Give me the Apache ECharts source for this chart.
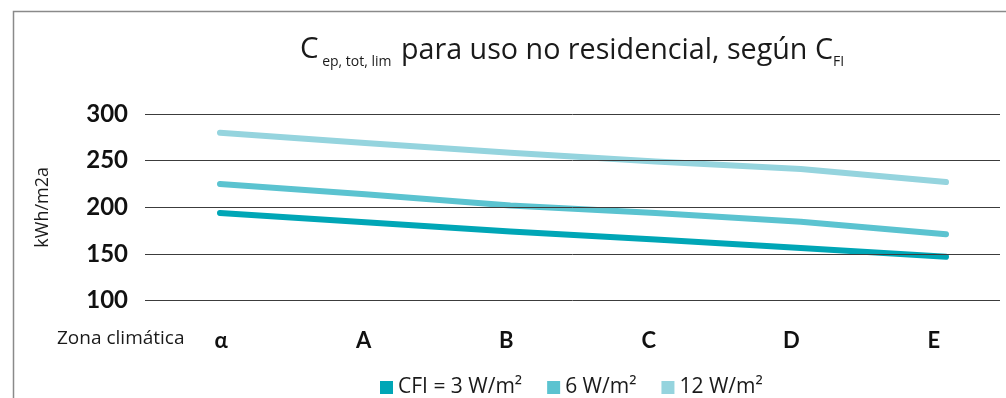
<!DOCTYPE html>
<html>
<head>
<meta charset="utf-8">
<script src="https://cdn.jsdelivr.net/npm/echarts@6/dist/echarts.min.js"></script>
<style>html,body{margin:0;padding:0;background:#fff;}#c{width:1006px;height:398px;}</style>
</head>
<body>
<div id="c"></div>
<script>
const categories = ['α', 'A', 'B', 'C', 'D', 'E'];
const seriesNames = ['CFI = 3 W/m²', '6 W/m²', '12 W/m²'];
const cfi3 = [194, 184, 174, 165.5, 156.5, 147];
const cfi6 = [225, 214, 202, 194, 184.5, 171];
const cfi12 = [280, 269, 258.5, 249, 241, 227];
const yTicks = [100, 150, 200, 250, 300];

const FONT = 'Open Sans';
const BFONT = 'Lato';
const colors = ['#00A6B6', '#5BC3D0', '#95D4DE'];
const chart = echarts.init(document.getElementById('c'), null, {renderer: 'canvas'});
const gTop = 114, gH = 186.6;
const valueAxisBase = {type: 'value', min: yTicks[0], max: yTicks[yTicks.length - 1], interval: 50};

chart.setOption({
  animation: false,
  textStyle: {fontFamily: FONT},
  title: {
    left: 567, textAlign: 'center', top: 24,
    text: '{c|C}{s| ep, tot, lim}{m| para uso no residencial, según C}{s2|FI}',
    textStyle: {
      fontWeight: 'normal',
      rich: {
        c: {fontSize: 29.5, fontFamily: FONT, fontWeight: 'normal', color: '#1a1a1a', lineHeight: 36, verticalAlign: 'bottom'},
        m: {fontSize: 28.7, fontFamily: FONT, fontWeight: 'normal', color: '#1a1a1a', lineHeight: 36, verticalAlign: 'bottom'},
        s: {fontSize: 14, fontFamily: FONT, fontWeight: 'normal', color: '#1a1a1a', lineHeight: 14, verticalAlign: 'bottom', padding: [0, 2, -4, 0]},
        s2: {fontSize: 14, fontFamily: FONT, fontWeight: 'normal', color: '#1a1a1a', lineHeight: 14, verticalAlign: 'bottom', padding: [0, 0, -4, 0]}
      }
    }
  },
  legend: {
    left: 380, top: 377, padding: 0,
    itemWidth: 13, itemHeight: 13, itemGap: 25,
    icon: 'rect',
    data: seriesNames,
    textStyle: {fontSize: 21, fontFamily: FONT, color: '#1a1a1a'}
  },
  grid: [
    {left: 145, width: 855, top: gTop, height: gH, outerBoundsMode: 'none'},
    {left: 150, width: 855, top: gTop, height: gH, outerBoundsMode: 'none'},
    {left: 147.4, width: 871.2, top: gTop, height: gH, outerBoundsMode: 'none'}
  ],
  xAxis: [
    {type: 'category', gridIndex: 0, data: categories, show: false},
    {type: 'category', gridIndex: 1, data: categories, boundaryGap: true,
      axisLine: {show: false}, axisTick: {show: false},
      axisLabel: {margin: 29, fontSize: 22, fontWeight: 'bold', color: '#111', fontFamily: BFONT}},
    {type: 'category', gridIndex: 2, data: categories, boundaryGap: true, show: false}
  ],
  yAxis: [
    Object.assign({}, valueAxisBase, {gridIndex: 0, z: 5,
      name: 'kWh/m2a', nameLocation: 'middle', nameRotate: 90, nameGap: 93,
      nameTextStyle: {fontSize: 18, fontFamily: FONT, color: '#1a1a1a'},
      axisLine: {show: false}, axisTick: {show: false},
      axisLabel: {margin: 17, fontSize: 24, fontWeight: 'bold', color: '#111', fontFamily: BFONT},
      splitLine: {show: true, lineStyle: {color: '#3c3c3c', width: 1}}}),
    Object.assign({}, valueAxisBase, {gridIndex: 1, show: false, splitLine: {show: false}}),
    Object.assign({}, valueAxisBase, {gridIndex: 2, show: false, splitLine: {show: false}})
  ],
  series: [cfi3, cfi6, cfi12].map((d, i) => ({
    name: seriesNames[i], type: 'line', xAxisIndex: 2, yAxisIndex: 2,
    data: d, showSymbol: false, symbol: 'none', z: 2, clip: false,
    color: colors[i],
    itemStyle: {color: colors[i]},
    lineStyle: {color: colors[i], width: 6, cap: 'round', join: 'round'}
  })),
  graphic: [
    {type: 'rect', silent: true, shape: {x: 13.5, y: 11.5, width: 1100, height: 600},
      style: {fill: 'none', stroke: '#8a8a8a', lineWidth: 1.5}, z: -1},
    {type: 'text', left: 57, top: 329,
      style: {text: 'Zona climática', fontSize: 19, fontFamily: FONT, fill: '#1a1a1a'}}
  ]
});
</script>
</body>
</html>
